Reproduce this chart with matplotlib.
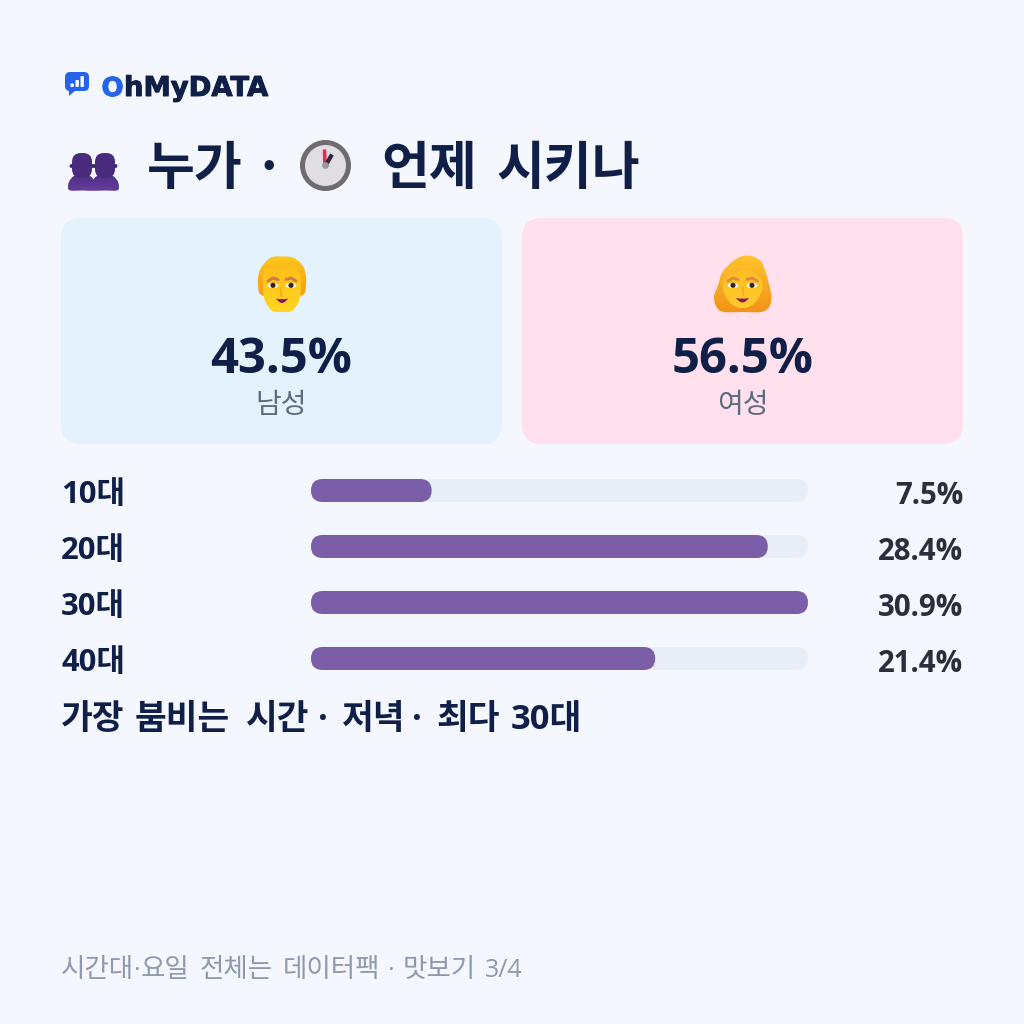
import numpy as np
import matplotlib
import matplotlib.pyplot as plt
import matplotlib.patheffects as pe
from matplotlib.patches import Circle, Ellipse, FancyBboxPatch, Polygon, PathPatch
from matplotlib.path import Path

matplotlib.use('Agg')

gender_labels = ['남성', '여성']
gender_values = [43.5, 56.5]
age_labels = ['10대', '20대', '30대', '40대']
age_values = [7.5, 28.4, 30.9, 21.4]
title_words = ['누가', '·', '언제', '시키나']
headline_words = ['가장', '붐비는', '시간', '·', '저녁', '·', '최다', '30대']
footer_words = ['시간대', '요일', '전체는', '데이터팩', '맛보기']
footer_dot = '·'
footer_page = '3/4'

BG = '#F4F7FE'
NAVY = '#0F1F47'
FONT = ['Open Sans', 'Noto Sans CJK KR', 'DejaVu Sans']
KR = ['Noto Sans CJK KR', 'DejaVu Sans']

fig = plt.figure(figsize=(10.24, 10.24), dpi=100, facecolor=BG)
ax = fig.add_axes([0, 0, 1, 1])
ax.set_xlim(0, 1024)
ax.set_ylim(1024, 0)
ax.axis('off')


def px(size):
    return size * 0.72


def rrect(x, y, w, h, r, color, z=1):
    p = FancyBboxPatch((x + r, y + r), w - 2 * r, h - 2 * r,
                       boxstyle=f'round,pad={r},rounding_size={r}',
                       fc=color, ec='none', zorder=z)
    ax.add_patch(p)
    return p


def gradient(patch, box, top, bottom, z):
    # vertical colour ramp clipped to the patch
    rgb0 = np.array(matplotlib.colors.to_rgb(top))
    rgb1 = np.array(matplotlib.colors.to_rgb(bottom))
    t = np.linspace(0, 1, 64)[:, None, None]
    img = rgb0[None, None, :] * (1 - t) + rgb1[None, None, :] * t
    im = ax.imshow(img, extent=(box[0], box[1], box[3], box[2]), aspect='auto', zorder=z)
    patch.set_facecolor('none')
    ax.add_patch(patch)
    im.set_clip_path(patch)
    ax.set_xlim(0, 1024)
    ax.set_ylim(1024, 0)


def smooth(points):
    # closed Catmull-Rom style outline through the points
    pts = np.array(points, dtype=float)
    n = len(pts)
    verts = [pts[0]]
    codes = [Path.MOVETO]
    for i in range(n):
        p0, p1, p2, p3 = pts[i - 1], pts[i], pts[(i + 1) % n], pts[(i + 2) % n]
        verts += [p1 + (p2 - p0) / 6, p2 - (p3 - p1) / 6, p2]
        codes += [Path.CURVE4] * 3
    return Path(verts, codes)


def words(items, xs, y, **kw):
    for item, x in zip(items, xs):
        ax.text(x, y, item, va='baseline', **kw)


def draw_logo():
    rrect(65, 72, 24, 19, 5, '#2563EB', 5)
    ax.add_patch(Polygon([(69, 88), (76, 90), (69, 96)], fc='#2563EB', ec='none', zorder=5))
    for x, y in [(70.5, 83.5), (75.5, 80), (80.5, 76)]:
        rrect(x, y, 3.4, 87 - y, 1, 'white', 6)
    for label, x, size, color in [('O', 101.5, 26, '#2563EB'), ('hMyDATA', 124, 27.4, NAVY)]:
        ax.text(x, 96, label, family='DejaVu Sans', weight='bold', size=px(size), color=color, va='baseline',
                path_effects=[pe.withStroke(linewidth=0.7, foreground=color)])


def draw_people():
    for cx in (82, 105):
        body = PathPatch(smooth([(cx - 13, 190), (cx - 13, 182), (cx - 8, 176), (cx, 175),
                                 (cx + 8, 176), (cx + 13, 182), (cx + 13, 190), (cx, 190.5)]),
                         ec='none', zorder=5)
        gradient(body, (cx - 14, cx + 14, 174, 191), '#4E2E84', '#643E9C', 5)
        ax.add_patch(Circle((cx - 10.5, 166), 1.9, fc='#3E2368', ec='none', zorder=5))
        ax.add_patch(Circle((cx + 10.5, 166), 1.9, fc='#3E2368', ec='none', zorder=5))
        rrect(cx - 10, 153, 20, 25, 9, '#4A2A7C', 6)


def draw_clock(cx, cy):
    ax.add_patch(Circle((cx, cy), 25.5, fc='#6F6B71', ec='none', zorder=5))
    ax.add_patch(Circle((cx, cy), 20.5, fc='#E1DEE3', ec='none', zorder=6))
    ax.plot([cx - 0.5, cx - 1], [cy, cy - 16], color='#F0294F', lw=2.6, solid_capstyle='butt', zorder=7)
    ax.plot([cx, cx + 6.5], [cy, cy - 11], color='#35263F', lw=3, solid_capstyle='butt', zorder=7)
    ax.add_patch(Circle((cx, cy), 3.4, fc='#9B979C', ec='none', zorder=8))


def draw_eyes(cx, dx, y, brow):
    for side in (-1, 1):
        ex = cx + side * dx
        ax.add_patch(Ellipse((ex, y), 10.5, 5, fc='white', ec='none', zorder=8))
        ax.add_patch(Circle((ex, y - 0.2), 2.6, fc='#3A2418', ec='none', zorder=9))
        ax.plot([ex - 5, ex, ex + 5], [y - 6 + (side < 0) * 1.5, y - 7.5, y - 6 + (side > 0) * 1.5],
                color=brow, lw=2.2, solid_capstyle='round', zorder=8)


def draw_smile(cx, y, w):
    ax.add_patch(PathPatch(Path([(cx - w, y), (cx, y + 1.5), (cx + w, y), (cx, y + 9), (cx - w, y)],
                                [Path.MOVETO, Path.CURVE3, Path.CURVE3, Path.CURVE3, Path.CURVE3]),
                           fc='#8A1A5E', ec='none', zorder=8))


def draw_man(cx):
    hair = PathPatch(smooth([(cx - 24, 285), (cx - 22, 270), (cx - 12, 258), (cx, 256.5), (cx + 12, 258),
                             (cx + 22, 268), (cx + 24, 285), (cx + 18, 296), (cx - 18, 296)]),
                     ec='none', zorder=5)
    gradient(hair, (cx - 25, cx + 25, 256, 297), '#FFC61C', '#F59A14', 5)
    for side in (-1, 1):
        ax.add_patch(Ellipse((cx + side * 19.5, 289), 6, 11, fc='#F7A018', ec='none', zorder=6))
    face = PathPatch(smooth([(cx - 17, 270), (cx, 268), (cx + 17, 270), (cx + 18.5, 295), (cx + 11, 310),
                             (cx, 312), (cx - 11, 310), (cx - 18.5, 295)]), ec='none', zorder=7)
    gradient(face, (cx - 19, cx + 19, 268, 313), '#FFC01C', '#FFD620', 7)
    draw_eyes(cx, 9, 285.5, '#CF7C48')
    ax.plot([cx - 1.5, cx - 0.5], [288, 296], color='#F5AE1A', lw=1.4, zorder=8)
    draw_smile(cx, 298.5, 6)


def draw_woman(cx):
    hair = PathPatch(smooth([(cx - 20, 272), (cx - 8, 260), (cx + 4, 255.5), (cx + 17, 260), (cx + 23, 272),
                             (cx + 29, 298), (cx + 22, 311), (cx, 312), (cx - 22, 311), (cx - 28.5, 298),
                             (cx - 24, 284)]), ec='none', zorder=5)
    gradient(hair, (cx - 30, cx + 30, 255, 313), '#FFC42A', '#F3921A', 5)
    face = PathPatch(smooth([(cx - 19, 280), (cx - 6, 272), (cx + 8, 271), (cx + 19, 280), (cx + 19, 292),
                             (cx + 11, 304), (cx, 308), (cx - 11, 304), (cx - 19, 292)]), ec='none', zorder=7)
    gradient(face, (cx - 20, cx + 20, 270, 309), '#FFBE22', '#FFCB2C', 7)
    draw_eyes(cx, 9.5, 285.5, '#E08A48')
    ax.plot([cx, cx + 0.8], [288, 295], color='#F5AE1A', lw=1.4, zorder=8)
    draw_smile(cx, 298, 6.5)


def draw_cards():
    colors = ['#E3F2FD', '#FFE0EC']
    xs = [61, 522]
    for x, color, label, value in zip(xs, colors, gender_labels, gender_values):
        rrect(x, 218, 441, 226, 20, color)
        cx = x + 220.5
        ax.text(cx, 373, f'{value}%', family=FONT, weight='bold', size=px(49), color=NAVY,
                ha='center', va='baseline', zorder=3)
        ax.text(cx, 413, label, family=KR, size=px(28), color='#5E6B7E',
                ha='center', va='baseline', zorder=3)
    draw_man(282)
    draw_woman(742.5)


def draw_rows():
    bar_x, bar_w, bar_h = 311, 497, 23
    top = max(age_values)
    for i, (label, value) in enumerate(zip(age_labels, age_values)):
        y = 479 + 56 * i
        rrect(bar_x, y, bar_w, bar_h, 11.5, '#E8EEF7', 2)
        rrect(bar_x, y, bar_w * value / top, bar_h, 11.5, '#7B5EA7', 3)
        ax.text(61, y + 23.5, label, family=FONT, weight='bold', size=px(31), color=NAVY, va='baseline')
        ax.text(963, y + 24.5, f'{value}%', family=FONT, weight='bold', size=px(29.5), color='#2B2F3D',
                ha='right', va='baseline')


draw_logo()
draw_people()
words(title_words, [147, 253, 381, 496], 184, family=KR, weight='bold', size=px(52), color=NAVY)
draw_clock(325.5, 165.5)
draw_cards()
draw_rows()
words(headline_words, [61, 135, 245, 318, 341, 412, 436, 511], 728.5,
      family=FONT, weight='bold', size=px(34.5), color=NAVY)
words(footer_words, [61, 141, 200, 283, 403], 977,
      family=KR, weight='light', size=px(26.5), color='#8D99AE')
words([footer_dot, footer_dot], [133, 387], 977, family='Open Sans', size=px(25), color='#8D99AE')
ax.text(485, 977, footer_page, family='Open Sans', size=px(25), color='#8D99AE', va='baseline')

fig.savefig('out.png', dpi=100, facecolor=BG)
plt.close(fig)
